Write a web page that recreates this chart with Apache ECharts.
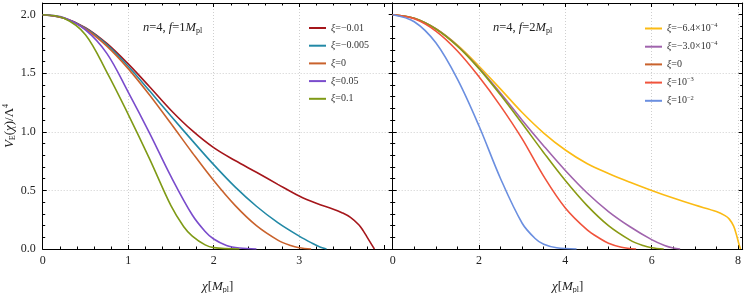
<!DOCTYPE html>
<html><head><meta charset="utf-8">
<script src="https://cdn.jsdelivr.net/npm/echarts@6/dist/echarts.min.js"></script>
<style>html,body{margin:0;padding:0;background:#fff}#c{width:747px;height:293px}</style>
</head><body><div id="c"></div>
<script>
// ---- data (chi, V_E/Lambda^4) ----
// left panel: n=4, f=1 M_pl
const L_xi_m0010 = [[0,2],[0.25,1.972],[0.5,1.89],[0.75,1.755],[1.0,1.58],[1.25,1.385],[1.5,1.185],[1.75,1.01],[2.0,0.865],[2.25,0.755],[2.5,0.655],[2.75,0.552],[3.0,0.452],[3.2,0.39],[3.4,0.34],[3.5,0.31],[3.6,0.27],[3.7,0.205],[3.75,0.155],[3.8,0.095],[3.85,0.035],[3.88,0]];
const L_xi_m0005 = [[0,2],[0.25,1.97],[0.5,1.885],[0.75,1.745],[1.0,1.56],[1.25,1.35],[1.5,1.135],[1.75,0.925],[2.0,0.72],[2.25,0.53],[2.5,0.365],[2.75,0.225],[3.0,0.11],[3.15,0.05],[3.25,0.015],[3.32,0]];
const L_xi_0 = [[0,2],[0.25,1.969],[0.5,1.878],[0.75,1.732],[1.0,1.54],[1.25,1.315],[1.5,1.071],[1.75,0.822],[2.0,0.584],[2.25,0.372],[2.5,0.199],[2.75,0.076],[2.9,0.029],[3.0,0.01],[3.14,0]];
const L_xi_005 = [[0,2],[0.25,1.975],[0.5,1.87],[0.75,1.67],[1.0,1.34],[1.25,0.99],[1.5,0.62],[1.75,0.29],[1.9,0.15],[2.0,0.085],[2.15,0.03],[2.3,0.008],[2.5,0]];
const L_xi_01 = [[0,2],[0.25,1.97],[0.5,1.83],[0.75,1.51],[1.0,1.15],[1.25,0.77],[1.5,0.37],[1.65,0.19],[1.75,0.11],[1.9,0.035],[2.0,0.012],[2.3,0]];
// right panel: n=4, f=2 M_pl
const R_xi_m64e4 = [[0,2],[0.5,1.97],[1.0,1.88],[1.5,1.74],[2.0,1.56],[2.5,1.365],[3.0,1.165],[3.5,0.99],[4.0,0.845],[4.5,0.73],[5.0,0.645],[5.5,0.57],[6.0,0.50],[6.5,0.435],[7.0,0.375],[7.5,0.32],[7.7,0.285],[7.8,0.255],[7.9,0.195],[7.97,0.115],[8.02,0.045],[8.06,0]];
const R_xi_m30e4 = [[0,2],[0.5,1.97],[1.0,1.88],[1.5,1.735],[2.0,1.545],[2.5,1.33],[3.0,1.10],[3.5,0.88],[4.0,0.67],[4.5,0.48],[5.0,0.32],[5.5,0.19],[6.0,0.08],[6.3,0.03],[6.5,0.008],[6.66,0]];
const R_xi_0 = [[0,2],[0.5,1.969],[1.0,1.878],[1.5,1.732],[2.0,1.54],[2.5,1.315],[3.0,1.071],[3.5,0.822],[4.0,0.584],[4.5,0.372],[5.0,0.199],[5.5,0.076],[5.8,0.029],[6.0,0.01],[6.28,0]];
const R_xi_1e3 = [[0,2],[0.5,1.965],[1.0,1.86],[1.5,1.69],[2.0,1.47],[2.5,1.22],[3.0,0.94],[3.5,0.62],[4.0,0.35],[4.5,0.165],[4.8,0.09],[5.0,0.05],[5.3,0.015],[5.64,0]];
const R_xi_1e2 = [[0,2],[0.5,1.94],[1.0,1.76],[1.5,1.45],[2.0,1.05],[2.5,0.6],[3.0,0.22],[3.3,0.09],[3.5,0.04],[3.8,0.01],[4.26,0]];

const leftNames = ['{i|ξ}=−0.01','{i|ξ}=−0.005','{i|ξ}=0','{i|ξ}=0.05','{i|ξ}=0.1'];
const rightNames = ['{i|ξ}=−6.4×10{sup|−4}','{i|ξ}=−3.0×10{sup|−4}','{i|ξ}=0','{i|ξ}=10{sup|−3}','{i|ξ}=10{sup|−2}'];
const leftColors = ['#a5161b','#2289a6','#c9622c','#7a4ccc','#7f9a16'];
const rightColors = ['#fbbb14','#a064ad','#8a9a14','#f0533c','#6b8fe0'];
const leftData = [L_xi_m0010, L_xi_m0005, L_xi_0, L_xi_005, L_xi_01];
const rightData = [R_xi_m64e4, R_xi_m30e4, R_xi_0, R_xi_1e3, R_xi_1e2];
const yTicks = [0, 0.5, 1.0, 1.5, 2.0];

const SERIF = '"Liberation Serif","DejaVu Serif",serif';
const chart = echarts.init(document.getElementById('c'), null, {renderer:'canvas'});
const grid = (left) => ({left: left, top: 3, width: 350, height: 246, containLabel:false, outerBoundsMode:'none'});
const gridC = '#cfcfcf';
const T = 'rgba(0,0,0,0)';
function xAxisMain(gi, max, interval, minorSplit, labelSet){
  return {
    type:'value', gridIndex:gi, min:0, max:max, interval:interval, position:'bottom',
    axisLine:{show:true, onZero:false, lineStyle:{color:'#000', width:1}},
    axisTick:{show:true, inside:true, length:4, lineStyle:{color:'#000'}},
    minorTick:{show:true, splitNumber:minorSplit, length:2.5, lineStyle:{color:'#000'}},
    axisLabel:{show:true, margin:6, color:'#222', fontSize:12, fontFamily:SERIF,
      formatter:(v)=> labelSet.indexOf(v)>=0 ? String(v) : ''},
    splitLine:{show:true, lineStyle:{type:[1,2], color: labelSet.map((v,k)=> (k===0 ? T : gridC)).concat([T,T])}},
    name: '{i|χ}[{i|M}{sub|pl}]', nameLocation:'middle', nameGap:31,
    nameTextStyle:{fontSize:13, color:'#222', fontFamily:SERIF,
      rich:{i:{fontStyle:'italic', fontSize:13, fontFamily:SERIF}, sub:{fontSize:8, padding:[6,0,0,0], fontFamily:SERIF}}}
  };
}
function xAxisTop(gi, max, interval, minorSplit){
  return {
    type:'value', gridIndex:gi, min:0, max:max, interval:interval, position:'top',
    axisLine:{show:true, onZero:false, lineStyle:{color:'#000', width:1}},
    axisTick:{show:true, inside:true, length:4, lineStyle:{color:'#000'}},
    minorTick:{show:true, splitNumber:minorSplit, length:2.5, lineStyle:{color:'#000'}},
    axisLabel:{show:false}, splitLine:{show:false}
  };
}
function yAxis(gi, pos, labels, grids, name){
  const o = {
    type:'value', gridIndex:gi, min:0, max:2.1, interval:0.5, position:pos,
    axisLine:{show:true, onZero:false, lineStyle:{color:'#000', width:1}},
    axisTick:{show:true, inside:true, length:4, lineStyle:{color:'#000'}},
    minorTick:{show:true, splitNumber:5, length:2.5, lineStyle:{color:'#000'}},
    axisLabel:{show:labels, margin:7, color:'#222', fontSize:12, fontFamily:SERIF,
      formatter:(v)=> yTicks.indexOf(v)>=0 ? v.toFixed(1) : ''},
    splitLine:{show:grids, lineStyle:{type:[1,2], color:[T, gridC, gridC, gridC, T]}}
  };
  if (name) {
    o.name = '{i|V}{sub|E}({i|χ})/Λ{sup|4}';
    o.nameLocation = 'middle'; o.nameGap = 25; o.nameRotate = 90;
    o.nameTextStyle = {fontSize:13, color:'#222', fontFamily:SERIF,
      rich:{i:{fontStyle:'italic', fontSize:13, fontFamily:SERIF}, sub:{fontSize:8, padding:[6,0,0,0], fontFamily:SERIF}, sup:{fontSize:8, padding:[0,0,8,0], fontFamily:SERIF}}};
  }
  return o;
}

const series = [];
leftData.forEach((d,k)=>series.push({name:leftNames[k], type:'line', xAxisIndex:0, yAxisIndex:0, data:d,
  showSymbol:false, symbol:'none', smooth:0.35, lineStyle:{width:1.6, color:leftColors[k]}, itemStyle:{color:leftColors[k]}, z:3}));
rightData.forEach((d,k)=>series.push({name:rightNames[k], type:'line', xAxisIndex:2, yAxisIndex:2, data:d,
  showSymbol:false, symbol:'none', smooth:0.35, lineStyle:{width:1.6, color:rightColors[k]}, itemStyle:{color:rightColors[k]}, z:3}));

const legendText = {fontSize:10, color:'#333', fontFamily:SERIF, lineHeight:12,
  rich:{i:{fontStyle:'italic', fontSize:10, fontFamily:SERIF}, sup:{fontSize:6.5, padding:[0,0,6,0], fontFamily:SERIF}}};
function legend(left, names){
  return {orient:'vertical', left:left, top:22, itemWidth:17, itemHeight:2, itemGap:5.7, icon:'rect',
    data:names, textStyle:legendText, formatter:(n)=>n, selectedMode:false, padding:0};
}

chart.setOption({
  animation:false,
  grid:[grid(42.7), grid(392.7)],
  xAxis:[xAxisMain(0, 4.094, 1, 5, [0,1,2,3]), xAxisTop(0, 4.094, 1, 5),
         xAxisMain(1, 8.11, 2, 4, [0,2,4,6,8]), xAxisTop(1, 8.11, 2, 4)],
  yAxis:[yAxis(0,'left',true,true,true), yAxis(0,'right',false,false,false),
         yAxis(1,'left',false,true,false), yAxis(1,'right',false,false,false)],
  legend:[legend(309, leftNames), legend(645, rightNames)],
  graphic:[
    {type:'text', left:143, top:21, style:{text:'{i|n}=4, {i|f}=1{i|M}{sub|pl}', fontSize:12.5, fill:'#222', fontFamily:SERIF,
      rich:{i:{fontStyle:'italic', fontSize:12.5, fontFamily:SERIF}, sub:{fontSize:8, padding:[6,0,0,0], fontFamily:SERIF}}}},
    {type:'text', left:493, top:21, style:{text:'{i|n}=4, {i|f}=2{i|M}{sub|pl}', fontSize:12.5, fill:'#222', fontFamily:SERIF,
      rich:{i:{fontStyle:'italic', fontSize:12.5, fontFamily:SERIF}, sub:{fontSize:8, padding:[6,0,0,0], fontFamily:SERIF}}}}
  ],
  series:series
});
</script></body></html>
